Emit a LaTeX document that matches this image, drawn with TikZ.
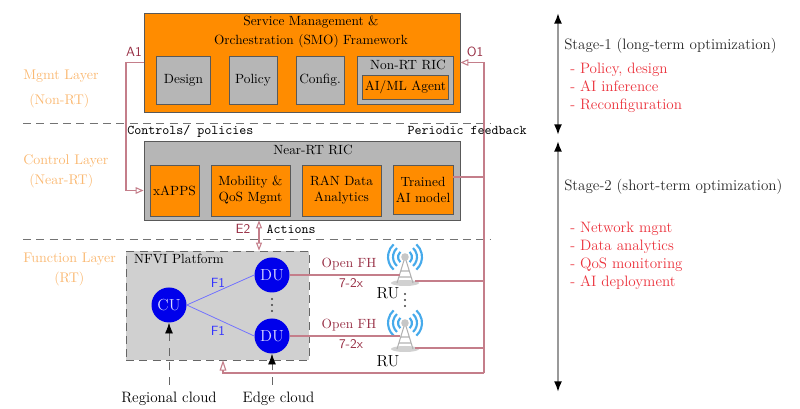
\documentclass[tikz,border=0pt]{standalone}
\usepackage{amsmath}
\usepackage{amssymb}
\usetikzlibrary{positioning,arrows.meta}
\definecolor{smoorange}{RGB}{255,140,0}
\definecolor{boxgray}{RGB}{182,182,182}
\definecolor{nfvigray}{RGB}{208,208,208}
\definecolor{layerorange}{RGB}{250,185,115}
\definecolor{linkred}{RGB}{196,126,138}
\definecolor{labelred}{RGB}{150,44,66}
\definecolor{stagered}{RGB}{235,50,60}
\definecolor{waveblue}{RGB}{70,170,235}
\definecolor{dublue}{RGB}{0,0,235}
\tikzset{
    towericon/.pic={
        \foreach \r in {7,12,17} {
            \draw[waveblue, line width=1.6pt] (48:\r) arc[start angle=48, end angle=-48, radius=\r];
            \draw[waveblue, line width=1.6pt] (132:\r) arc[start angle=132, end angle=228, radius=\r];
        }
        \fill[black!18] (0,26) ellipse (14 and 3);
        \draw[black!30, thick] (-8,26) -- (0,0) -- (8,26) (-4,14) -- (4,14) (-6,20) -- (6,20);
        \fill[black!22] (0,0) circle (3.8);
    }
}
\begin{document}
\begin{tikzpicture}[
    x=0.75pt, y=-0.75pt,
    orangebox/.style={draw=black!65, fill=smoorange, semithick, align=center, inner sep=0pt},
    graybox/.style={draw=black!65, fill=boxgray, semithick, align=center, inner sep=0pt},
    roundnode/.style={circle, fill=dublue, text=white!85!blue, minimum size=26.25pt, inner sep=0pt, font=\large},
    dotmark/.style={circle, fill=black!75, minimum size=1.8pt, inner sep=0pt},
    layerlabel/.style={text=layerorange, anchor=base west, inner sep=0pt, font=\fontsize{10.5}{12}\selectfont},
    feedlink/.style={draw=linkred, line width=0.8pt},
    fronthaul/.style={text=labelred},
    stagearrow/.style={{Latex[length=8pt, width=6pt, black]}-{Latex[length=8pt, width=6pt, black]}, draw=black!40, line width=1.3pt},
    stagetext/.style={anchor=base west, inner sep=0pt, text=black!85, font=\fontsize{11.3}{13}\selectfont},
    stageitem/.style={anchor=base west, inner sep=0pt, text=stagered, font=\fontsize{11.3}{13}\selectfont},
    cloudlabel/.style={font=\fontsize{11.3}{13}\selectfont},
    cloudlink/.style={-{Latex[length=8pt, width=6pt, black]}, semithick, draw=black!60, dash pattern=on 6pt off 5pt},
    sectionline/.style={draw=black!55, line width=0.7pt, dash pattern=on 6pt off 4pt}
    ]
        \useasboundingbox (0,0) rectangle (800,409);

        %Layer separators
        \coordinate (sep1l) at (23,123);
        \coordinate (sep1r) at (490,123);
        \coordinate (sep2l) at (23,239);
        \coordinate (sep2r) at (490,239);
        \draw[sectionline] (sep1l) -- (sep1r);
        \draw[sectionline] (sep2l) -- (sep2r);

        %SMO
        \node[orangebox, minimum width=237pt, minimum height=74.25pt] (smo) at (302,62.5) {};
        \node[align=center] (smotitle) at (311,32) {Service Management \&\\[2.5pt]Orchestration (SMO) Framework};
        \node[graybox, minimum width=41pt, minimum height=36pt] (design) at (183.5,80) {Design};
        \node[graybox, minimum width=36pt, minimum height=36pt] (policy) at (253,80) {Policy};
        \node[graybox, minimum width=36pt, minimum height=36pt] (config) at (320,80) {Config.};
        \node[graybox, minimum width=72pt, minimum height=36pt] (nonrt) at (405,80) {};
        \node (nonrtlabel) at (408,65) {Non-RT RIC};
        \node[orangebox, minimum width=64pt, minimum height=18pt] (agent) at (405.5,87) {AI/ML Agent};

        %Near-RT RIC
        \node[graybox, minimum width=237pt, minimum height=59.25pt] (nearric) at (302,180.5) {};
        \node (nearlabel) at (313,150) {Near-RT RIC};
        \node[orangebox, minimum width=36.75pt, minimum height=38.25pt] (xapps) at (174.5,190.5) {xAPPS};
        \node[orangebox, minimum width=59.25pt, minimum height=38.25pt] (mobility) at (250.5,190.5) {Mobility \&\\QoS Mgmt};
        \node[orangebox, minimum width=59.25pt, minimum height=38.25pt] (randata) at (341.5,190.5) {RAN Data\\Analytics};
        \node[orangebox, minimum width=45pt, minimum height=36.75pt] (trained) at (423,189.5) {Trained\\AI model};

        %NFVI platform
        \node[draw=black!60, fill=nfvigray, semithick, dash pattern=on 6pt off 4pt, minimum width=137.25pt, minimum height=81.75pt] (nfvi) at (217.5,305.5) {};
        \node (nfvilabel) at (179,259) {NFVI Platform};
        \node[roundnode] (cu) at (169,305) {CU};
        \node[roundnode] (du1) at (272,275) {DU};
        \node[roundnode] (du2) at (272,336) {DU};
        \foreach \y in {299,305,311} {
            \node[dotmark] (dud\y) at (272,\y) {};
        }

        %Radio units
        \pic at (405,257) {towericon};
        \pic at (405,323) {towericon};
        \node[font=\large] (ru1) at (388,293) {RU};
        \node[font=\large] (ru2) at (388,361) {RU};
        \foreach \y in {294,300,306} {
            \node[dotmark] (rud\y) at (405,\y) {};
        }
        \coordinate (ru1in) at (400,275);
        \coordinate (ru2in) at (400,336);
        \coordinate (ru1out) at (415,281);
        \coordinate (ru2out) at (415,348);

        %Feedback bus
        \coordinate (busbottom) at (484,373);
        \coordinate (nfviin) at (223,360);
        \coordinate (regional) at (169,385);
        \coordinate (edge) at (272,385);

        %Layer labels
        \node[layerlabel] (mgmt) at (23,80) {Mgmt Layer};
        \node[layerlabel] (mgmtrt) at (29,105) {(Non-RT)};
        \node[layerlabel] (control) at (23,165) {Control Layer};
        \node[layerlabel] (controlrt) at (29,185) {(Near-RT)};
        \node[layerlabel] (function) at (23,263) {Function Layer};
        \node[layerlabel] (functionrt) at (54,283) {(RT)};

        %Lines
        \draw[feedlink, -{Triangle[open, length=6pt, width=5pt]}] (smo.west) -- (126,62.5) |- (nearric.west |- xapps);
        \draw[feedlink, -{Triangle[open, length=6pt, width=5pt]}] (busbottom) |- (smo.east);
        \draw[feedlink] (trained.east |- 0,177) -- (busbottom |- 0,177);
        \draw[feedlink, -{Triangle[open, length=8pt, width=5pt]}] (busbottom) -| (nfviin);
        \draw[feedlink, {Triangle[open, length=6pt, width=4.5pt]}-{Triangle[open, length=6pt, width=4.5pt]}] (nearric.south -| 259,0) -- (nfvi.north -| 259,0);
        \draw[feedlink] (du1.east) -- (ru1in);
        \draw[feedlink] (du2.east) -- (ru2in);
        \draw[feedlink] (ru1out) -- (ru1out -| busbottom);
        \draw[feedlink] (ru2out) -- (ru2out -| busbottom);
        \draw[draw=blue!55, semithick] (cu.east) -- (du1.west);
        \draw[draw=blue!55, semithick] (cu.east) -- (du2.west);
        \draw[cloudlink] (regional) -- (cu.south);
        \draw[cloudlink] (edge) -- (du2.south);

        %Link labels
        \node[text=labelred, font=\sffamily] (a1) at (134,52) {A1};
        \node[text=labelred, font=\sffamily] (o1) at (475,52) {O1};
        \node[text=labelred, font=\sffamily] (e2) at (243,229) {E2};
        \node[font=\ttfamily] (actions) at (291,229) {Actions};
        \node[font=\ttfamily, anchor=base west, inner sep=0pt] (controls) at (127,135) {Controls/ policies};
        \node[font=\ttfamily, anchor=base east, inner sep=0pt] (periodic) at (527,135) {Periodic feedback};
        \node[text=blue!80, font=\sffamily] (f1a) at (218,283) {F1};
        \node[text=blue!80, font=\sffamily] (f1b) at (218,331) {F1};
        \node[fronthaul] (fh1) at (349,264) {Open FH};
        \node[fronthaul] (fh2) at (349,325) {Open FH};
        \node[fronthaul, font=\sffamily] (split1) at (351,283) {7-2x};
        \node[fronthaul, font=\sffamily] (split2) at (351,344) {7-2x};
        \node[cloudlabel] (regionallabel) at (169,399) {Regional cloud};
        \node[cloudlabel] (edgelabel) at (278.5,399) {Edge cloud};

        %Stages
        \coordinate (st1top) at (558,13);
        \coordinate (st1bot) at (558,135);
        \coordinate (st2top) at (558,141);
        \coordinate (st2bot) at (558,392);
        \draw[stagearrow] (st1top) -- (st1bot);
        \draw[stagearrow] (st2top) -- (st2bot);
        \node[stagetext] (stage1) at (564,50) {Stage-1 (long-term optimization)};
        \node[stageitem] (s1a) at (570,74) {- Policy, design};
        \node[stageitem] (s1b) at (570,92) {- AI inference};
        \node[stageitem] (s1c) at (570,110) {- Reconfiguration};
        \node[stagetext] (stage2) at (564,191) {Stage-2 (short-term optimization)};
        \node[stageitem] (s2a) at (570,233) {- Network mgnt};
        \node[stageitem] (s2b) at (570,251) {- Data analytics};
        \node[stageitem] (s2c) at (570,269) {- QoS monitoring};
        \node[stageitem] (s2d) at (570,287) {- AI deployment};
\end{tikzpicture}
\end{document}
